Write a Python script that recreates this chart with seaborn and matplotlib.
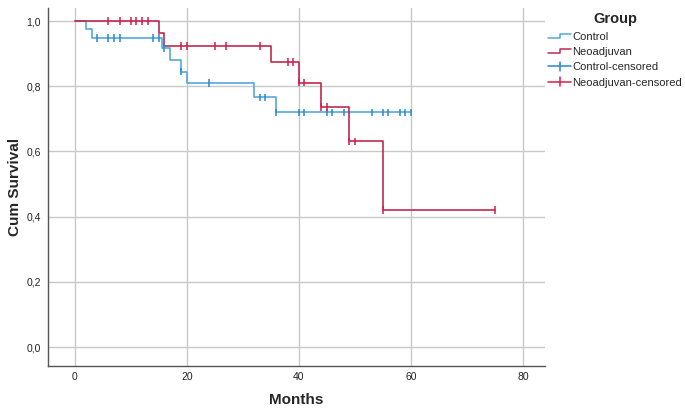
import matplotlib
matplotlib.use("Agg")
import matplotlib.pyplot as plt
import seaborn as sns
import pandas as pd
from matplotlib.lines import Line2D
from matplotlib.legend_handler import HandlerBase
from matplotlib.ticker import FuncFormatter

# Kaplan-Meier steps
ctrl_time = [0, 2, 3, 15.5, 17, 19, 20, 32, 36, 60]
ctrl_surv = [1.0, 0.975, 0.948, 0.917, 0.88, 0.845, 0.81, 0.766, 0.72, 0.72]
neo_time = [0, 15, 16, 35, 40, 44, 49, 55, 75]
neo_surv = [1.0, 0.962, 0.923, 0.874, 0.811, 0.736, 0.631, 0.421, 0.421]

# censored observations
ctrl_cens_time = [4, 6, 7, 8, 14, 15, 16, 19, 24, 33, 34, 36, 40, 41, 45, 46, 48, 53, 55, 56, 58, 59, 60]
ctrl_cens_surv = [0.948, 0.948, 0.948, 0.948, 0.948, 0.948, 0.917, 0.845, 0.81, 0.766, 0.766,
                  0.72, 0.72, 0.72, 0.72, 0.72, 0.72, 0.72, 0.72, 0.72, 0.72, 0.72, 0.72]
neo_cens_time = [6, 8, 10, 11, 12, 13, 19, 20, 25, 27, 33, 38, 39, 40, 41, 44, 45, 49, 50, 55, 75]
neo_cens_surv = [1.0, 1.0, 1.0, 1.0, 1.0, 1.0, 0.923, 0.923, 0.923, 0.923, 0.923, 0.874, 0.874,
                 0.811, 0.811, 0.736, 0.736, 0.631, 0.631, 0.421, 0.421]

ctrl_line, ctrl_mark = "#55a8dc", "#2a88d2"
neo_line, neo_mark = "#c02a52", "#d81c4c"

steps = pd.concat([
    pd.DataFrame({"Months": ctrl_time, "Surv": ctrl_surv, "Group": "Control"}),
    pd.DataFrame({"Months": neo_time, "Surv": neo_surv, "Group": "Neoadjuvan"}),
])
cens = pd.concat([
    pd.DataFrame({"Months": ctrl_cens_time, "Surv": ctrl_cens_surv, "Group": "Control-censored"}),
    pd.DataFrame({"Months": neo_cens_time, "Surv": neo_cens_surv, "Group": "Neoadjuvan-censored"}),
])

sns.set_style("white")
plt.rcParams["font.family"] = ["Liberation Sans", "DejaVu Sans"]

fig = plt.figure(figsize=(6.85, 4.17), dpi=100)
ax = fig.add_axes([0.070, 0.1223, 0.726, 0.8585])

sns.lineplot(data=steps, x="Months", y="Surv", hue="Group",
             palette={"Control": ctrl_line, "Neoadjuvan": neo_line},
             drawstyle="steps-post", estimator=None, sort=False,
             linewidth=1.2, legend=False, ax=ax, zorder=3)
sns.scatterplot(data=cens, x="Months", y="Surv", hue="Group",
                palette={"Control-censored": ctrl_mark, "Neoadjuvan-censored": neo_mark},
                marker="|", s=30, linewidth=1.1, legend=False, ax=ax, zorder=4)

ax.set_xlim(-4.8, 84)
ax.set_ylim(-0.058, 1.04)
ax.set_xticks([0, 20, 40, 60, 80])
ax.set_yticks([0, 0.2, 0.4, 0.6, 0.8, 1.0])
ax.yaxis.set_major_formatter(FuncFormatter(lambda v, p: f"{v:.1f}".replace(".", ",")))
ax.grid(True, color="#c8c8c8", linewidth=1)
ax.set_axisbelow(True)
ax.tick_params(length=0, labelsize=7.5, colors="#222222")
ax.tick_params(axis="y", pad=5)
ax.tick_params(axis="x", pad=4)
for side in ["top", "right"]:
    ax.spines[side].set_visible(False)
for side in ["left", "bottom"]:
    ax.spines[side].set_color("#555555")
    ax.spines[side].set_linewidth(1)

ax.set_xlabel("Months", fontsize=11, fontweight="bold", labelpad=8)
ax.set_ylabel("Cum Survival", fontsize=11, fontweight="bold", labelpad=3)


class StepHandler(HandlerBase):
    def create_artists(self, legend, orig, xd, yd, w, h, fontsize, trans):
        x = [-xd, -xd + w * 0.5, -xd + w * 0.5, -xd + w]
        y = [-yd + h * 0.2, -yd + h * 0.2, -yd + h * 0.75, -yd + h * 0.75]
        ln = Line2D(x, y, color=orig.get_color(), linewidth=1.1, transform=trans)
        return [ln]


class CrossHandler(HandlerBase):
    def create_artists(self, legend, orig, xd, yd, w, h, fontsize, trans):
        hl = Line2D([-xd, -xd + w], [-yd + h / 2] * 2, color=orig.get_color(), linewidth=1.1, transform=trans)
        vl = Line2D([-xd + w / 2] * 2, [-yd - h * 0.05, -yd + h * 1.05], color=orig.get_color(), linewidth=1.1, transform=trans)
        return [hl, vl]


h_ctrl = Line2D([], [], color=ctrl_line)
h_neo = Line2D([], [], color=neo_line)
h_ctrl_c = Line2D([], [], color=ctrl_mark)
h_neo_c = Line2D([], [], color=neo_mark)
leg = fig.legend([h_ctrl, h_neo, h_ctrl_c, h_neo_c],
                 ["Control", "Neoadjuvan", "Control-censored", "Neoadjuvan-censored"],
                 handler_map={h_ctrl: StepHandler(), h_neo: StepHandler(),
                              h_ctrl_c: CrossHandler(), h_neo_c: CrossHandler()},
                 title="Group", loc="upper left", bbox_to_anchor=(548 / 685, 1 - 12 / 417),
                 frameon=False, fontsize=8, handlelength=2.1, handletextpad=0.1,
                 labelspacing=0.48, borderpad=0, borderaxespad=0)
leg.get_title().set_fontweight("bold")
leg.get_title().set_fontsize(10.5)
leg._legend_box.sep = 4

plt.savefig("out.png", dpi=100)
